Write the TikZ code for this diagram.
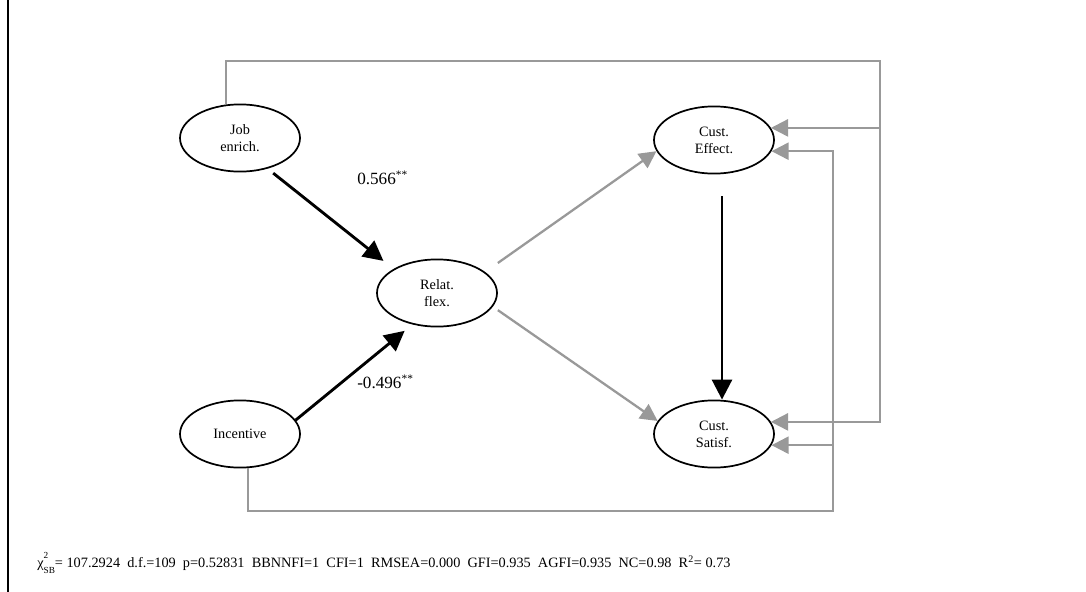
\documentclass[tikz,border=0pt]{standalone}
\usepackage{fontspec}
\setmainfont{Liberation Serif}
\usepackage{tikz}
\usetikzlibrary{arrows.meta,shapes.geometric}
\definecolor{pathgrey}{HTML}{999999}

\begin{document}
\begin{tikzpicture}[x=0.7pt,y=-0.7pt,
  latent/.style={ellipse,draw=black,line width=1.2pt,minimum width=84pt,minimum height=47pt,inner sep=0pt,align=center,font=\fontsize{10}{12}\selectfont},
  blackpath/.style={-{Triangle[length=14pt,width=14pt]},black,line width=2pt},
  greypath/.style={-{Triangle[length=12pt,width=12pt]},pathgrey,line width=1.6pt},
  coef/.style={anchor=west,inner sep=0pt,font=\fontsize{12}{14}\selectfont}]
\useasboundingbox (0,0) rectangle (1086,592);
\draw[black,line width=1.4pt] (8,0) -- (8,592);

% latent variables
\node[latent] (job) at (240,138) {Job\\enrich.};
\node[latent] (incentive) at (240,434) {Incentive};
\node[latent] (relat) at (437,293) {Relat.\\flex.};
\node[latent] (effect) at (714,140) {Cust.\\Effect.};
\node[latent] (satisf) at (714,434) {Cust.\\Satisf.};

% significant paths
\draw[blackpath,shorten <=5pt,shorten >=9pt] (job.-48) -- (relat.151);
\draw[blackpath,shorten >=7pt] (incentive.14) -- (relat.232);
\draw[blackpath] ([xshift=5.6pt,yshift=-15.4pt]effect.south) -- ([xshift=5.6pt]satisf.north);
\node[coef] (w1) at (357,178) {0.566\textsuperscript{**}};
\node[coef] (w2) at (357,382) {-0.496\textsuperscript{**}};

% non significant paths
\draw[greypath] ([yshift=21pt]relat.east) -- (effect.191);
\draw[greypath] ([yshift=-12pt]relat.east) -- (satisf.167);
\coordinate (jobloop) at (880,61);
\coordinate (incloop) at (833,511);
\draw[greypath] ([xshift=-9.8pt]job.north) |- (jobloop) |- (satisf.12);
\draw[greypath] (jobloop |- effect.12) -- (effect.12);
\draw[greypath] ([xshift=5.6pt]incentive.south) |- (incloop) |- (effect.-11);
\draw[greypath] (incloop |- satisf.-11) -- (satisf.-11);

% fit indices
\node[anchor=west,inner sep=0pt,font=\fontsize{10}{12}\selectfont] (fit) at (37,563)
  {χ\rlap{\raisebox{0.62em}{\fontsize{6.5}{7}\selectfont 2}}\raisebox{-0.38em}{\fontsize{6.5}{7}\selectfont SB}= 107.2924~ d.f.=109~ p=0.52831~ BBNNFI=1~ CFI=1~ RMSEA=0.000~ GFI=0.935~ AGFI=0.935~ NC=0.98~ R\textsuperscript{2}= 0.73};
\end{tikzpicture}
\end{document}
